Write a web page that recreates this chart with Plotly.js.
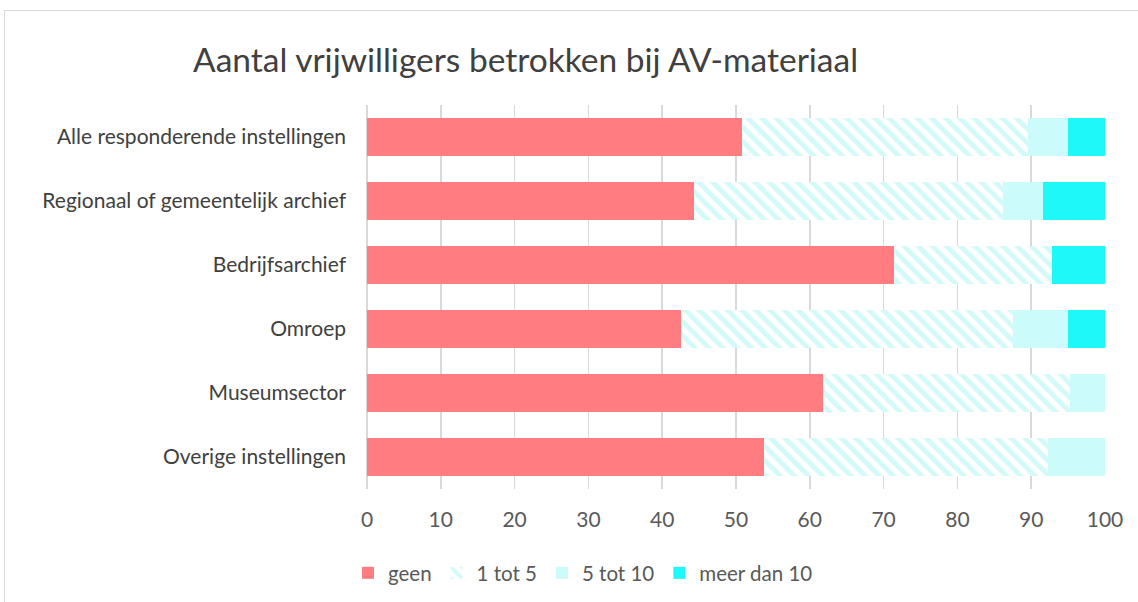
<!DOCTYPE html>
<html>
<head>
<meta charset="utf-8">
<script src="https://cdn.plot.ly/plotly-3.0.1.min.js"></script>
<style>
  html, body { margin: 0; padding: 0; background: #ffffff; overflow: hidden; }
  #frame { position: absolute; left: 4px; top: 10px; width: 1140px; height: 600px; border: 1px solid #d9d9d9; box-sizing: border-box; }
  #chart { position: absolute; left: 0; top: 0; width: 1138px; height: 602px; }
</style>
</head>
<body>
<div id="frame"></div>
<div id="chart"></div>
<script>
const categories = [
  "Alle responderende instellingen",
  "Regionaal of gemeentelijk archief",
  "Bedrijfsarchief",
  "Omroep",
  "Museumsector",
  "Overige instellingen"
];
const geen       = [50.8, 44.3, 71.4, 42.5, 61.8, 53.8];
const een_tot5   = [38.8, 41.9, 21.4, 45.0, 33.5, 38.5];
const vijf_tot10 = [5.4, 5.4, 0, 7.5, 4.7, 7.7];
const meer_dan10 = [5.0, 8.4, 7.2, 5.0, 0, 0];
const seriesNames = ["geen", "1 tot 5", "5 tot 10", "meer dan 10"];
const xTicks = [0, 10, 20, 30, 40, 50, 60, 70, 80, 90, 100];

const FONT = "Lato, 'Open Sans', sans-serif";

const traces = [
  { name: seriesNames[0], x: geen, marker: { color: "#ff7c80" } },
  { name: seriesNames[1], x: een_tot5, marker: { color: "#ffffff",
      pattern: { shape: "\\", fgcolor: "#aaf4f4", bgcolor: "#ffffff", size: 10, solidity: 0.5, fillmode: "overlay" } } },
  { name: seriesNames[2], x: vijf_tot10, marker: { color: "#ccfbfb" } },
  { name: seriesNames[3], x: meer_dan10, marker: { color: "#1ff8f8" } }
].map(t => Object.assign({
  type: "bar", orientation: "h", y: categories, hoverinfo: "x+name"
}, t, { marker: Object.assign({ line: { width: 0 } }, t.marker) }));

const layout = {
  width: 1138, height: 602,
  paper_bgcolor: "rgba(0,0,0,0)", plot_bgcolor: "rgba(0,0,0,0)",
  margin: { l: 367, r: 33, t: 105, b: 113, pad: 0 },
  barmode: "stack", bargap: 0.4,
  font: { family: FONT, color: "#595959", size: 21 },
  title: {
    text: "Aantal vrijwilligers betrokken bij AV-materiaal",
    font: { family: FONT, size: 33.5, color: "#404040" },
    xref: "container", x: 193 / 1138, xanchor: "left",
    yref: "container", y: 1 - 60 / 602, yanchor: "middle"
  },
  xaxis: {
    range: [0, 100], tickvals: xTicks, ticktext: xTicks.map(String),
    showgrid: true, gridcolor: "#d9d9d9", gridwidth: 1.5,
    zeroline: true, zerolinecolor: "#d9d9d9", zerolinewidth: 1.5,
    showline: false, ticks: "",
    ticklabelstandoff: 16,
    tickfont: { family: FONT, size: 21, color: "#595959" }, fixedrange: true
  },
  yaxis: {
    autorange: "reversed", type: "category",
    showgrid: false, zeroline: false, showline: false, ticks: "",
    ticklabelstandoff: 20,
    tickfont: { family: FONT, size: 21, color: "#404040" }, fixedrange: true
  },
  showlegend: true,
  legend: {
    orientation: "h", traceorder: "normal",
    xref: "container", x: 583 / 1138, xanchor: "center",
    yref: "container", y: 1 - 573 / 602, yanchor: "middle",
    font: { family: FONT, size: 20.5, color: "#595959" },
    itemwidth: 30
  }
};

Plotly.newPlot("chart", traces, layout, { displayModeBar: false, staticPlot: true });
</script>
</body>
</html>
